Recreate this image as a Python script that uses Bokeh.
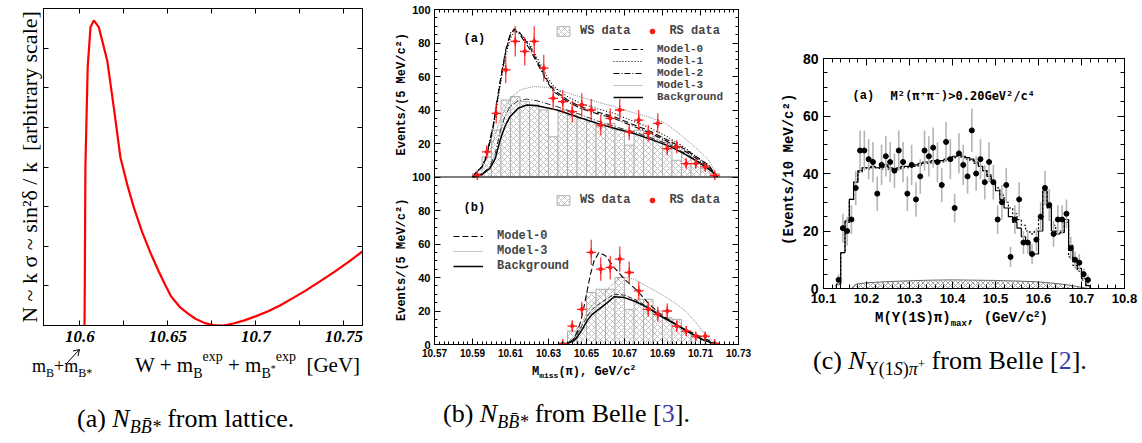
import numpy as np
from bokeh.plotting import figure
from bokeh.models import (Range1d, LinearAxis, FixedTicker, Label, Legend, LegendItem,
                          Span, NumeralTickFormatter, Div)
from bokeh.layouts import row, column
from bokeh.embed import file_html
from bokeh.resources import INLINE

# ======================= DATA =======================
# (a) lattice: N ~ k sigma vs W + m_B + m_B*
a_W = [10.6027, 10.6028, 10.6032, 10.6045, 10.6061, 10.6080, 10.6108, 10.6156, 10.6195,
       10.6231, 10.6270, 10.6307, 10.6355, 10.6403, 10.6450, 10.6487, 10.6519, 10.6572,
       10.6615, 10.6657, 10.6710, 10.6760, 10.6815, 10.6873, 10.6935, 10.6998, 10.7070,
       10.7140, 10.7210, 10.7283, 10.7360, 10.7442, 10.7525, 10.7606]
a_N = [0.0, 0.63, 3.99, 6.52, 7.53, 7.70, 7.53, 6.69, 5.45,
       4.24, 3.55, 2.98, 2.35, 1.82, 1.35, 1.01, 0.73, 0.45,
       0.30, 0.17, 0.06, 0.01, 0.00, 0.05, 0.13, 0.23, 0.36,
       0.51, 0.69, 0.88, 1.10, 1.34, 1.60, 1.87]

# (b) Belle, upper panel (a)
bt_bins = [10.5925, 10.5975, 10.6025, 10.6075, 10.6125, 10.6175, 10.6225, 10.6275, 10.6325,
           10.6375, 10.6425, 10.6475, 10.6525, 10.6575, 10.6625, 10.6675, 10.6725, 10.6775,
           10.6825, 10.6875, 10.6925, 10.6975, 10.7025, 10.7075, 10.7125, 10.7175]
bt_rs = [1, 15, 38, 64, 81, 75, 81, 65, 47, 45, 39, 43, 40, 31, 35, 40, 27, 34, 26, 32,
         17, 18, 8, 8, 6, 1]
bt_rs_err = [1, 4, 6, 8, 9, 8.5, 9, 8, 7, 7, 6.5, 7, 6.5, 6, 6, 6.5, 5, 6, 5, 6,
             4, 4, 3, 3, 2.5, 1]
bt_ws = [2, 12, 28, 46, 48, 45, 43, 40, 24, 40, 37, 35, 33, 30, 32, 28, 19, 28, 27, 24,
         22, 10, 15, 8, 5, 2]
bt_bg_x = [10.5903, 10.5950, 10.5990, 10.6020, 10.6045, 10.6070, 10.6097, 10.6140, 10.6186,
           10.6240, 10.6345, 10.6450, 10.6557, 10.6650, 10.6750, 10.6850, 10.6945, 10.7020,
           10.7087, 10.7140, 10.7175, 10.7190]
bt_bg_y = [0, 1.5, 5, 11, 22, 30, 36, 41, 43, 42.5, 40, 36, 32, 29, 26, 22, 18, 13.5, 9, 5, 2, 0]
bt_bg2_y = [0, 2, 6, 14, 27, 36, 42, 45.5, 46.5, 45.5, 42, 38, 33.5, 30, 27, 23, 19, 14, 9.5,
            5.5, 2, 0]
bt_m_x = [10.5900, 10.5921, 10.5950, 10.5974, 10.6009, 10.6045, 10.6075, 10.6100, 10.6120,
          10.6150, 10.6203, 10.6250, 10.6292, 10.6327, 10.6400, 10.6468, 10.6550, 10.6645,
          10.6730, 10.6822, 10.6910, 10.6998, 10.7080, 10.7144, 10.7185]
bt_m0_y = [0, 3, 6, 12, 30, 56, 75, 85, 88.5, 86, 77.6, 67, 58, 52, 46, 42, 39, 36, 32, 28,
           23, 18, 12, 7, 0]
bt_m1_y = [0, 3, 6, 12, 29, 54, 73, 83, 87, 86, 79, 69, 60, 54, 48, 44, 41, 38, 34, 30,
           25, 19, 12, 7, 0]
bt_m2_y = [0, 3, 6, 13, 31, 57, 76, 86, 88, 85, 76, 66, 57, 51, 45, 41, 38, 35, 31, 27,
           22, 17, 11, 6, 0]
bt_m3_x = [10.5900, 10.5950, 10.6000, 10.6050, 10.6100, 10.6150, 10.6220, 10.6300, 10.6380,
           10.6468, 10.6550, 10.6645, 10.6730, 10.6822, 10.6910, 10.6998, 10.7070, 10.7144,
           10.7190]
bt_m3_y = [0, 5, 18, 36, 47, 52, 54, 53.5, 51, 47.8, 45, 42, 39, 36, 32.5, 25, 18, 10, 0]

# (b) Belle, lower panel (b)
bb_bins = [10.6375, 10.6425, 10.6475, 10.6525, 10.6575, 10.6625, 10.6675, 10.6725, 10.6775,
           10.6825, 10.6875, 10.6925, 10.6975, 10.7025, 10.7075, 10.7125, 10.7175]
bb_rs = [0.5, 11, 21, 55, 45, 46, 51, 43, 32, 21, 18, 20, 11, 8, 5, 5, 0.5]
bb_rs_err = [0.5, 3.5, 4.5, 7.5, 7, 7, 7.5, 6.5, 5.5, 4.5, 4.5, 4.5, 3.5, 3, 2.5, 2.5, 0.5]
bb_ws = [1, 8, 10, 31, 33, 33, 40, 21, 27, 27, 20, 16, 15, 8, 4, 3, 1]
bb_bg_x = [10.6360, 10.6400, 10.6430, 10.6451, 10.6480, 10.6504, 10.6530, 10.6557, 10.6610,
           10.6645, 10.6700, 10.6760, 10.6822, 10.6890, 10.6963, 10.7020, 10.7069, 10.7120,
           10.7170, 10.7190]
bb_bg_y = [0, 0.5, 2, 4.4, 9.5, 14.4, 18, 20.4, 25, 28.5, 28, 25.5, 22, 17, 12.4, 8.5, 5.4,
           2.5, 0.5, 0]
bb_bg2_y = [0, 0.7, 2.8, 6, 12, 17, 21, 23.5, 27.5, 30, 29.5, 26.5, 22.5, 17.5, 12.6, 8.7,
            5.5, 2.6, 0.5, 0]
bb_m0_x = [10.6365, 10.6400, 10.6430, 10.6451, 10.6470, 10.6486, 10.6505, 10.6521, 10.6540,
           10.6566, 10.6600, 10.6645, 10.6700, 10.6769, 10.6822, 10.6880, 10.6945, 10.7010,
           10.7087, 10.7150, 10.7190]
bb_m0_y = [0, 0.7, 3, 7.4, 14, 22, 33, 42, 50, 55, 53, 46, 39, 32, 25, 19, 14, 9.5, 5.4, 2, 0]
bb_m3_x = [10.6365, 10.6420, 10.6460, 10.6504, 10.6560, 10.6610, 10.6680, 10.6750, 10.6822,
           10.6900, 10.6963, 10.7020, 10.7069, 10.7133, 10.7190]
bb_m3_y = [0, 2, 8, 20, 28, 33, 40.5, 39, 34.5, 29.5, 25, 20, 14, 5, 0]

# (c) Belle, Upsilon(1S) pi
c_bins = [10.135, 10.145, 10.155, 10.165, 10.175, 10.185, 10.195, 10.205, 10.215, 10.225,
          10.235, 10.245, 10.255, 10.265, 10.275, 10.285, 10.295, 10.305, 10.315, 10.325,
          10.335, 10.345, 10.355, 10.365, 10.375, 10.385, 10.395, 10.405, 10.415, 10.425,
          10.435, 10.445, 10.455, 10.465, 10.475, 10.485, 10.495, 10.505, 10.515, 10.525,
          10.535, 10.545, 10.555, 10.565, 10.575, 10.585, 10.595, 10.605, 10.615, 10.625,
          10.635, 10.645, 10.655, 10.665, 10.675, 10.685, 10.695, 10.705, 10.715]
c_counts = [3, 21, 20, 24, 35, 48, 48, 45, 44, 33,
            43, 46, 44, 41, 48, 44, 33, 43, 31, 39,
            48, 46, 49, 44, 36, 51, 45, 28, 47, 43,
            39, 55, 40, 45, 37, 44, 37, 24, 30, 36,
            11, 24, 31, 16, 16, 12, 17, 25, 35, 29,
            19, 24, 24, 26, 14, 10, 9, 5, 3]
c_err = [2, 5, 5, 5, 6, 7, 7, 7, 7, 6,
         7, 7, 7, 6, 7, 7, 6, 7, 6, 6,
         7, 7, 7, 7, 6, 7, 7, 5, 7, 7,
         6, 7.5, 6, 7, 6, 7, 6, 5, 6, 6,
         3.5, 5, 6, 4, 4, 3.5, 4, 5, 6, 5.5,
         4.5, 5, 5, 5, 4, 3, 3, 2, 1.7]
c_fit = [1.5, 12.5, 23.5, 31, 37, 41, 42, 42, 42.5, 42,
         42, 43, 42, 41.5, 42, 42.5, 42.5, 43, 43, 43.5,
         44, 44, 44.5, 44, 44.5, 45, 45.5, 46, 46.5, 46,
         45.5, 45, 44, 42.5, 41, 39, 37, 34, 31, 28,
         25, 23, 21, 18, 16, 12, 12, 20, 34, 28,
         20, 19, 19.5, 24, 15, 10, 7, 3.5, 1]
c_fit2 = [1.5, 12.5, 23, 31, 37, 40.5, 42, 41.5, 42, 42,
          41.5, 42.5, 41.5, 41, 41.5, 42, 42, 42.5, 42.5, 43,
          43.5, 43.5, 44, 43.5, 44, 44.5, 45, 45.5, 46, 45.5,
          45, 44.5, 43.5, 42.5, 41, 39.5, 37.5, 35, 32.5, 30,
          28, 26, 24, 22, 20, 19, 20, 24, 34, 30,
          22, 20, 20, 23, 11, 8, 6, 3, 1]
c_edge_lo, c_edge_hi = 10.125, 10.725
c_bg_x = [10.165, 10.175, 10.2, 10.25, 10.3, 10.35, 10.4, 10.45, 10.5, 10.55, 10.6, 10.65,
          10.68, 10.7, 10.715]
c_bg_y = [0, 1.5, 2.0, 2.4, 2.7, 2.9, 3.0, 2.9, 2.8, 2.6, 2.3, 1.6, 1.0, 0.4, 0]

# ======================= HELPERS =======================
SERIF = "Liberation Serif"
MONO = "Liberation Mono"
SANS = "Liberation Sans"
BLUE = "#3c3ca8"
RED = "#ff1a1a"


def new_fig(w, h, xr, yr, bl, br, bt, bb):
    p = figure(width=w, height=h, x_range=xr, y_range=yr, output_backend="svg",
               toolbar_location=None, min_border_left=bl, min_border_right=br,
               min_border_top=bt, min_border_bottom=bb,
               background_fill_color="white", border_fill_color="white")
    try:
        p.frame_align = False
    except Exception:
        pass
    p.xgrid.visible = False
    p.ygrid.visible = False
    p.outline_line_color = "black"
    p.outline_line_width = 1
    return p


def style_ax(ax, ticker, tin, mtin, size=10, font=SANS, fstyle="bold", standoff=4,
             labels=True, fmt=None):
    ax.ticker = ticker
    ax.major_tick_in = tin
    ax.major_tick_out = 0
    ax.minor_tick_in = mtin
    ax.minor_tick_out = 0
    ax.axis_line_color = "black"
    ax.major_tick_line_color = "black"
    ax.minor_tick_line_color = "black"
    if fmt is not None:
        ax.formatter = fmt
    if labels:
        ax.major_label_text_font = font
        ax.major_label_text_font_size = f"{size}px"
        ax.major_label_text_font_style = fstyle
        ax.major_label_text_color = "black"
        ax.major_label_standoff = standoff
    else:
        ax.major_label_text_font_size = "1px"
        ax.major_label_text_color = None
        ax.major_label_standoff = 0


def axis_title(ax, text, font, size, style, standoff):
    ax.axis_label = text
    ax.axis_label_text_font = font
    ax.axis_label_text_font_size = f"{size}px"
    ax.axis_label_text_font_style = style
    ax.axis_label_text_color = "black"
    ax.axis_label_standoff = standoff


def mirrors(p, xt, yt, tin, mtin):
    top = LinearAxis()
    style_ax(top, xt, tin, mtin, labels=False)
    p.add_layout(top, "above")
    right = LinearAxis()
    style_ax(right, yt, tin, mtin, labels=False)
    p.add_layout(right, "right")


def plab(p, fl, fb, px, py, text, size, font=SERIF, style="normal", color="black"):
    # label inside the frame, given in page pixels (baseline)
    p.add_layout(Label(x=px - fl, y=fb - py, x_units="screen", y_units="screen", text=text,
                       text_font=font, text_font_size=f"{size}px", text_font_style=style,
                       text_color=color, text_align="left", text_baseline="alphabetic"))


ASC = {SERIF: 0.8375, MONO: 0.7665}


def piece(left, baseline, size, family, html, weight="normal"):
    top = baseline - ASC[family] * size
    return (f'<span style="position:absolute;left:{left}px;top:{top:.1f}px;'
            f"font-family:'{family}';font-size:{size}px;font-weight:{weight};"
            f'line-height:1;white-space:nowrap;color:black">{html}</span>')


def sp(html, size, dy, style=""):
    return (f'<span style="font-size:{size}px;position:relative;top:{dy}px;{style}">'
            f'{html}</span>')


def text_div(w, h, html):
    return Div(text=html, width=w, height=h, styles={"position": "relative", "margin": "0",
                                                     "padding": "0"})


# ======================= PANEL (a) =======================
FA_L, FA_B = 43, 325
fa = new_fig(375, 350, Range1d(10.5794, 10.7606), Range1d(0, 8), 43, 13, 8, 25)
xa_t = FixedTicker(ticks=[10.6, 10.65, 10.7, 10.75], minor_ticks=[10.625, 10.675, 10.725])
ya_t = FixedTicker(ticks=[1, 2, 3, 4, 5, 6, 7], minor_ticks=[])
style_ax(fa.xaxis[0], xa_t, 5, 5, size=17, font=SERIF, fstyle="bold italic", standoff=5,
         fmt=NumeralTickFormatter(format="0.0[0]"))
style_ax(fa.yaxis[0], ya_t, 5, 0, labels=False)
axis_title(fa.yaxis[0], "N ~ k \u03c3 ~ sin\u00b2\u03b4 / k \u00a0[arbitrary scale]", SERIF, 22,
           "normal", 2)
mirrors(fa, xa_t, ya_t, 5, 5)
fa.line(a_W, a_N, line_color="#ff0000", line_width=2.2)

DA_TOP = 350
arrow_svg = ('<svg style="position:absolute;left:62px;top:-4px;overflow:visible" width="24" '
             'height="18"><line x1="5" y1="17" x2="17" y2="4" stroke="black" stroke-width="1"/>'
             '<polyline points="11,5 17.5,3.5 16,10" fill="none" stroke="black" '
             'stroke-width="1"/></svg>')
da_html = (
    piece(32, 372 - DA_TOP, 18, SERIF, "m" + sp("B", 12, 5) + "+m" + sp("B*", 12, 5))
    + arrow_svg
    + piece(135, 373 - DA_TOP, 21, SERIF,
            "W + m" + sp("B", 14, 6) + sp("exp", 14, -11) + " + m" + sp("B", 14, 6)
            + sp("*", 10, 0) + sp("exp", 14, -11) + "&nbsp;&nbsp;[GeV]")
    + piece(77, 428 - DA_TOP, 26, SERIF,
            "(a) <i>N</i>" + sp("<i>BB\u0304*</i>", 18, 6) + " from lattice.")
)
da = text_div(375, 92, da_html)

# ======================= PANEL (b) =======================
FB_L, FB_B = 434, 344
fb = new_fig(385, 362, Range1d(10.57, 10.73), Range1d(0, 200), 59, 22, 9, 18)
fb.extra_y_ranges = {"top": Range1d(-100, 100)}
xb_t = FixedTicker(ticks=[10.57, 10.59, 10.61, 10.63, 10.65, 10.67, 10.69, 10.71, 10.73],
                   minor_ticks=list(np.round(np.arange(10.57, 10.7301, 0.0025), 4)))
yb_t = FixedTicker(ticks=list(range(0, 201, 20)), minor_ticks=list(range(0, 201, 5)))
style_ax(fb.xaxis[0], xb_t, 6, 3, size=10, standoff=4)
style_ax(fb.yaxis[0], yb_t, 6, 3, size=11, standoff=4)
fb.yaxis[0].major_label_overrides = {120: "20", 140: "40", 160: "60", 180: "80", 200: "100"}
axis_title(fb.yaxis[0], "Events/(5 MeV/c\u00b2)" + "\u00a0" * 6 + "Events/(5 MeV/c\u00b2)",
           MONO, 12, "bold", 0)
mirrors(fb, xb_t, yb_t, 6, 3)
fb.add_layout(Span(location=100, dimension="width", line_color="black", line_width=1))

HALF_BIN = 0.0025
ws_style = dict(fill_color="white", hatch_pattern="x", hatch_color="#999999", hatch_scale=6,
                hatch_weight=0.6, line_color="#b0b0b0", line_width=1)


def belle_panel(bins, rs, err, ws, curves, yname):
    kw = {} if yname is None else {"y_range_name": yname}
    left = [b - HALF_BIN for b in bins]
    right = [b + HALF_BIN for b in bins]
    r_ws = fb.quad(left=left, right=right, bottom=[0] * len(bins), top=ws, **ws_style, **kw)
    rs_curves = {}
    for name, (xs, ys, dash, col, lw) in curves.items():
        rs_curves[name] = fb.line(xs, ys, line_dash=dash, line_color=col, line_width=lw, **kw)
    lo = [v - e for v, e in zip(rs, err)]
    hi = [v + e for v, e in zip(rs, err)]
    fb.segment(x0=bins, y0=lo, x1=bins, y1=hi, line_color=RED, line_width=1.3, line_alpha=0.85,
               **kw)
    r_cross = fb.scatter(bins, rs, marker="cross", size=9.5, line_color=RED, line_width=1.3, **kw)
    r_dot = fb.scatter(bins, rs, marker="circle", size=3.5, fill_color=RED, line_color=RED, **kw)
    return r_ws, r_cross, r_dot, rs_curves


curves_top = {
    "bg2": (bt_bg_x, bt_bg2_y, "6 2 1 2", "#333333", 1.0),
    "Model-3": (bt_m3_x, bt_m3_y, "1 1", "#8a8a8a", 1.0),
    "Model-1": (bt_m_x, bt_m1_y, "1 2", "black", 1.1),
    "Model-2": (bt_m_x, bt_m2_y, "6 2 1 2", "black", 1.1),
    "Model-0": (bt_m_x, bt_m0_y, "6 3", "black", 1.1),
    "Background": (bt_bg_x, bt_bg_y, "solid", "black", 1.5),
}
ws_t, cr_t, dot_t, cv_t = belle_panel(bt_bins, bt_rs, bt_rs_err, bt_ws, curves_top, "top")

curves_bot = {
    "bg2": (bb_bg_x, bb_bg2_y, "5 2", "#333333", 1.0),
    "Model-3": (bb_m3_x, bb_m3_y, "1 1", "#8a8a8a", 1.0),
    "Model-0": (bb_m0_x, bb_m0_y, "6 3", "black", 1.1),
    "Background": (bb_bg_x, bb_bg_y, "solid", "black", 1.5),
}
ws_b, cr_b, dot_b, cv_b = belle_panel(bb_bins, bb_rs, bb_rs_err, bb_ws, curves_bot, None)

leg_common = dict(label_text_font=MONO, label_text_font_style="bold", label_text_font_size="12px",
                  border_line_alpha=0, background_fill_alpha=0, padding=0, margin=0)
leg_tight = dict(leg_common, label_text_font_size="11px")
fb.add_layout(Legend(items=[LegendItem(label="WS data", renderers=[ws_t]),
                            LegendItem(label="RS data", renderers=[cr_t, dot_t])],
                     orientation="horizontal", location=(121, 306), glyph_width=16,
                     glyph_height=12, label_standoff=9, spacing=14, **leg_common))
fb.add_layout(Legend(items=[LegendItem(label=n, renderers=[cv_t[n]]) for n in
                            ["Model-0", "Model-1", "Model-2", "Model-3", "Background"]],
                     location=(179, 241), glyph_width=30, glyph_height=10, label_height=10,
                     label_standoff=14, spacing=0, **leg_tight))
fb.add_layout(Legend(items=[LegendItem(label="WS data", renderers=[ws_b]),
                            LegendItem(label="RS data", renderers=[cr_b, dot_b])],
                     orientation="horizontal", location=(121, 137), glyph_width=16,
                     glyph_height=12, label_standoff=9, spacing=14, **leg_common))
fb.add_layout(Legend(items=[LegendItem(label=n, renderers=[cv_b[n]]) for n in
                            ["Model-0", "Model-3", "Background"]],
                     location=(19, 71), glyph_width=30, glyph_height=12, label_height=12,
                     label_standoff=14, spacing=1, **leg_common))

plab(fb, FB_L, FB_B, 463, 38, "(a)", 12, font=MONO, style="bold")
plab(fb, FB_L, FB_B, 463, 207, "(b)", 12, font=MONO, style="bold")

DB_TOP, DB_LEFT = 362, 375
db_html = (
    piece(532 - DB_LEFT, 375 - DB_TOP, 12, MONO,
          "M" + sp("miss", 8, 3) + "(\u03c0), GeV/c" + sp("2", 8, -5), weight="bold")
    + piece(443 - DB_LEFT, 423 - DB_TOP, 26, SERIF,
            "(b) <i>N</i>" + sp("<i>BB\u0304*</i>", 18, 6) + " from Belle ["
            + f'<span style="color:{BLUE}">3</span>].')
)
db = text_div(385, 80, db_html)

# ======================= PANEL (c) =======================
FC_L, FC_B = 823, 288
fc = new_fig(381, 310, Range1d(10.1, 10.8), Range1d(0, 80), 63, 17, 58, 22)
xc_t = FixedTicker(ticks=[10.1, 10.2, 10.3, 10.4, 10.5, 10.6, 10.7, 10.8],
                   minor_ticks=list(np.round(np.arange(10.1, 10.8001, 0.02), 3)))
yc_t = FixedTicker(ticks=[0, 20, 40, 60, 80], minor_ticks=list(range(0, 81, 5)))
style_ax(fc.xaxis[0], xc_t, 7, 4, size=13, standoff=5)
style_ax(fc.yaxis[0], yc_t, 7, 4, size=14, standoff=5)
axis_title(fc.yaxis[0], "\u00a0(Events/10 MeV/c\u00b2)", MONO, 14, "bold", 3)
mirrors(fc, xc_t, yc_t, 7, 4)

fc.varea(x=c_bg_x, y1=[0] * len(c_bg_x), y2=c_bg_y, fill_color="white", hatch_pattern="x",
         hatch_color="#6a6a6a", hatch_scale=5, hatch_weight=0.6)
fc.line(c_bg_x, c_bg_y, line_color="#6a6a6a", line_width=1)
step_x = [c_edge_lo] + c_bins + [c_edge_hi]
fc.step(step_x, [0] + c_fit2 + [0], mode="center", line_color="black", line_width=1.2,
        line_dash="2 2")
fc.step(step_x, [0] + c_fit + [0], mode="center", line_color="black", line_width=1.2)
c_lo = [v - e for v, e in zip(c_counts, c_err)]
c_hi = [v + e for v, e in zip(c_counts, c_err)]
fc.segment(x0=c_bins, y0=c_lo, x1=c_bins, y1=c_hi, line_color="#b5b5b5", line_width=1.6)
fc.scatter(c_bins, c_counts, marker="circle", size=5, fill_color="black", line_color="black")

plab(fc, FC_L, FC_B, 852, 95, "(a)", 12, font=MONO, style="bold")
plab(fc, FC_L, FC_B, 890, 95, "M\u00b2(\u03c0\u207a\u03c0\u207b)>0.20GeV\u00b2/c\u2074", 12,
     font="DejaVu Sans Mono", style="bold")

DC_TOP, DC_LEFT = 310, 760
dc_html = (
    piece(875 - DC_LEFT, 322 - DC_TOP, 14, MONO,
          "M(\u03a5(1S)\u03c0)" + sp("max", 9, 4) + ", (GeV/c" + sp("2", 9, -5) + ")",
          weight="bold")
    + piece(813 - DC_LEFT, 370 - DC_TOP, 26, SERIF,
            "(c) <i>N</i>" + sp("\u03a5(1<i>S</i>)<i>\u03c0</i>", 18, 6) + sp("+", 13, -1)
            + " from Belle [" + f'<span style="color:{BLUE}">2</span>].')
)
dc = text_div(381, 132, dc_html)

layout = row(column(fa, da), column(fb, db), column(fc, dc))
open("out.html", "w").write(file_html(layout, INLINE))
